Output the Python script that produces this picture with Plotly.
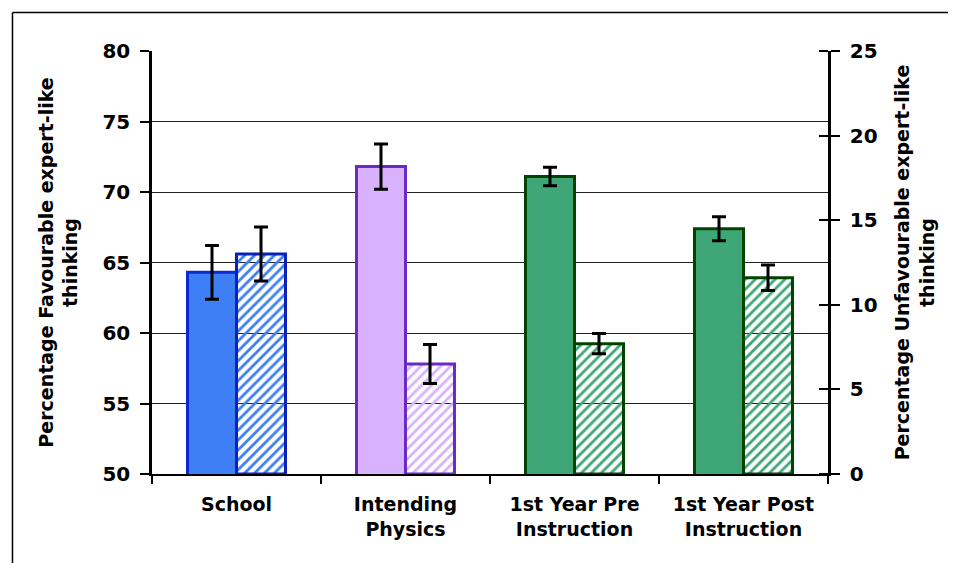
import plotly.graph_objects as go

categories = ["School", "Intending<br>Physics", "1st Year Pre<br>Instruction", "1st Year Post<br>Instruction"]
favourable = [64.3, 71.8, 71.1, 67.4]
favourable_err = [1.9, 1.6, 0.65, 0.85]
unfavourable = [13.0, 6.5, 7.7, 11.6]
unfavourable_err = [1.6, 1.15, 0.6, 0.75]

fill_colors = ["#3F7FF5", "#D8B2FF", "#3FA677", "#3FA677"]
solid_border = ["#0A2AD8", "#6A2BC4", "#004400", "#004400"]
hatch_border = ["#0A22B8", "#6A2BC4", "#004400", "#004400"]

font_family = "Verdana, DejaVu Sans, sans-serif"

fig = go.Figure()
fig.add_trace(go.Bar(
    x=categories, y=favourable, yaxis="y", name="Favourable",
    width=0.29, offset=-0.29,
    marker=dict(color=fill_colors, line=dict(color=solid_border, width=3)),
    error_y=dict(type="data", array=favourable_err, color="black", thickness=3, width=7),
))
fig.add_trace(go.Bar(
    x=categories, y=unfavourable, yaxis="y2", name="Unfavourable",
    width=0.29, offset=0.0,
    marker=dict(color=fill_colors, line=dict(color=hatch_border, width=3),
                pattern=dict(shape="/", bgcolor="white", fillmode="replace", size=7, solidity=0.4)),
    error_y=dict(type="data", array=unfavourable_err, color="black", thickness=3, width=7),
))
fig.add_trace(go.Scatter(x=[categories[0]], y=[0], yaxis="y3", mode="markers",
                         marker=dict(opacity=0), hoverinfo="skip", showlegend=False))

tickfont = dict(family=font_family, size=20, color="black", weight="bold")
titlefont = dict(family=font_family, size=19, color="black", weight="bold")

fig.update_layout(
    width=956, height=563,
    margin=dict(l=144, r=136, t=43, b=97),
    paper_bgcolor="white", plot_bgcolor="white",
    showlegend=False,
    xaxis=dict(
        type="category", showline=True, linecolor="black", linewidth=2,
        ticks="outside", tickson="boundaries", ticklen=8, tickwidth=2, tickcolor="black",
        ticklabelstandoff=12,
        tickfont=dict(family=font_family, size=19, color="black", weight="bold"),
        showgrid=False, range=[-0.5, 3.5], automargin=False,
    ),
    yaxis=dict(
        range=[50, 80], dtick=5, showline=True, linecolor="black", linewidth=2.5,
        ticks="outside", ticklen=9, tickwidth=2, tickcolor="black", ticklabelstandoff=6,
        showgrid=True, gridcolor="#222222", gridwidth=1,
        tickfont=tickfont, zeroline=False, automargin=False,
        title=dict(text="Percentage Favourable expert-like<br>thinking", font=titlefont, standoff=20),
    ),
    yaxis2=dict(
        range=[0, 25], dtick=5, overlaying="y", side="right", anchor="x",
        showline=True, linecolor="black", linewidth=2.5,
        ticks="outside", ticklen=9, tickwidth=2, tickcolor="black", ticklabelstandoff=6,
        showgrid=False, zeroline=False, tickfont=tickfont, automargin=False,
        title=dict(text="Percentage Unfavourable expert-like<br>thinking", font=titlefont, standoff=20),
    ),
    yaxis3=dict(
        range=[0, 25], dtick=5, overlaying="y", side="left", anchor="free", position=1.0,
        showline=False, ticks="outside", ticklen=9, tickwidth=2, tickcolor="black",
        showticklabels=False, showgrid=False, zeroline=False, automargin=False,
    ),
    shapes=[
        dict(type="line", xref="paper", yref="paper", x0=-0.2064, x1=1.25, y0=1.091, y1=1.091,
             line=dict(color="black", width=1.5)),
        dict(type="line", xref="paper", yref="paper", x0=-0.2064, x1=-0.2064, y0=1.091, y1=-0.3,
             line=dict(color="black", width=1.5)),
    ],
)

fig.write_html("out.html")
